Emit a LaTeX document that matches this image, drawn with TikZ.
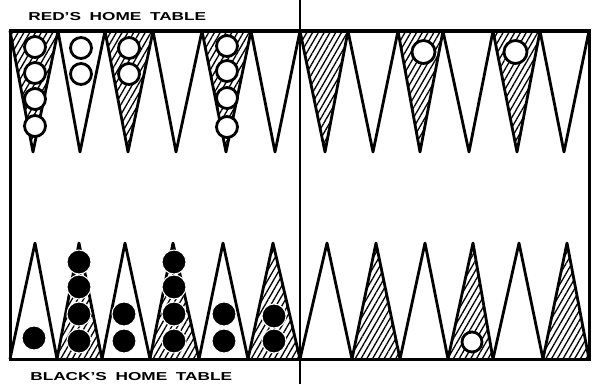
\documentclass[tikz,border=0pt]{standalone}
\usepackage{fontspec}
\setsansfont{Liberation Sans}
\usepackage{tikz}
\usetikzlibrary{patterns.meta}
\tikzset{
  frame/.style={line width=3pt},
  bar/.style={line width=2.2pt},
  point/.style={line width=2.8pt, line join=round},
  hatched/.style={point, pattern={Lines[angle=60, distance=5pt, line width=1.3pt]}},
  redman/.style={circle, draw=black, fill=white, line width=2.8pt, minimum size=21pt, inner sep=0pt},
  blackman/.style={circle, draw=white, fill=black, line width=1pt, minimum size=24pt, inner sep=0pt},
  caption/.style={font=\sffamily\bfseries\fontsize{11.5}{11.5}\selectfont, inner sep=0pt, anchor=base west, xscale=1.5}
}

\begin{document}
\begin{tikzpicture}[x=1pt, y=1pt]
		\useasboundingbox (0,0) rectangle (592,384);
		% corners of the board
		\coordinate (NW) at (10,353);
		\coordinate (SE) at (589,25);
		% top points (red's side): left base / tip / right base
		\foreach \a/\t/\b in {10/33/58, 105/128/153, 202/226/251, 300/325/348, 398/420/443, 493/517/540}
			\draw[hatched] (\a,353) -- (\t,232) -- (\b,353);
		\foreach \a/\t/\b in {58/80/105, 153/176/202, 251/275/300, 348/373/398, 443/469/493, 540/564/589}
			\draw[point] (\a,353) -- (\t,232) -- (\b,353);
		% bottom points (black's side)
		\foreach \a/\t/\b in {10/35/57, 102/125/150, 199/223/248, 300/327/352, 400/425/448, 493/519/543}
			\draw[point] (\a,25) -- (\t,141) -- (\b,25);
		\foreach \a/\t/\b in {57/79/102, 150/173/199, 248/273/300, 352/376/400, 448/473/493, 543/567/589}
			\draw[hatched] (\a,25) -- (\t,141) -- (\b,25);
		% board and bar
		\draw[frame] (NW) rectangle (SE);
		\draw[bar] (300,0) coordinate (B0) -- (300,384) coordinate (B1);
		% red men
		\foreach \x/\y [count=\n] in {35/337, 35/311, 35/285, 35/258, 81/336, 81/310,
		  129/336, 129/310, 227/338, 227/313, 227/286, 227/257}
			\node[redman] (r\n) at (\x,\y) {};
		\node[redman, minimum width=23pt, minimum height=20pt] (r13) at (423.5,332) {};
		\node[redman, minimum width=23pt, minimum height=20pt] (r14) at (515.5,332) {};
		\node[redman, minimum width=20pt, minimum height=18pt] (r15) at (472,42) {};
		% black men
		\foreach \x/\y [count=\n] in {34/46, 79/122, 79/97, 79/70, 79/43, 124/70, 124/43,
		  174/122, 174/97, 174/70, 174/43, 224/70, 224/43, 274/68, 274/43}
			\node[blackman] (b\n) at (\x,\y) {};
		% labels
		\node[caption] (redlabel) at (28,363.5) {RED'S\hspace{.5em}HOME\hspace{.5em}TABLE};
		\node[caption] (blacklabel) at (30,4) {BLACK'S\hspace{.5em}HOME\hspace{.5em}TABLE};
	\end{tikzpicture}
\end{document}
